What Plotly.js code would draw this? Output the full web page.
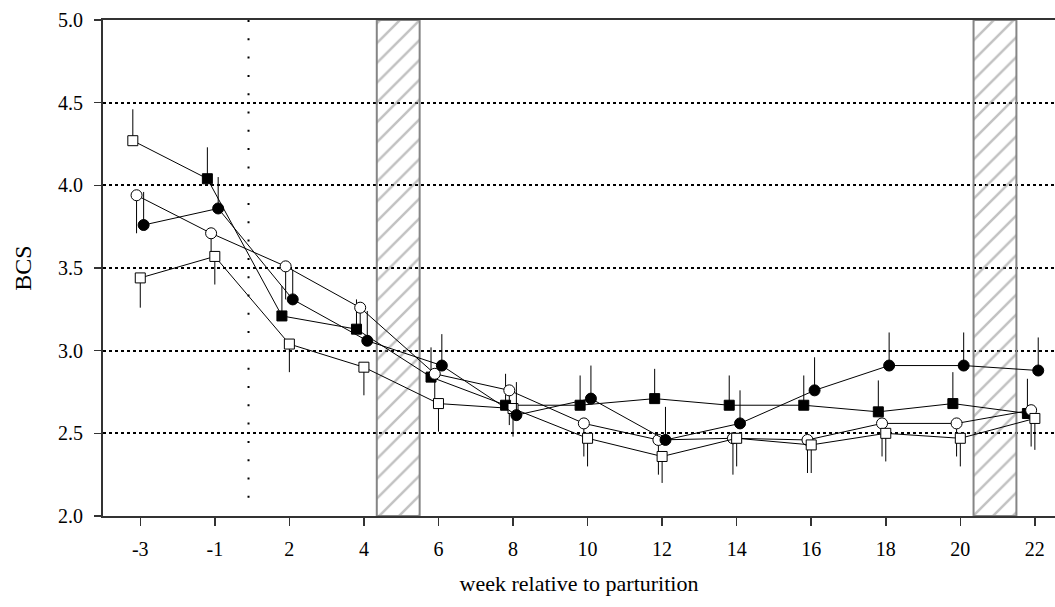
<!DOCTYPE html>
<html>
<head>
<meta charset="utf-8">
<script src="https://cdn.plot.ly/plotly-3.0.1.min.js"></script>
<style>html,body{margin:0;padding:0;background:#fff;}#chart{width:1055px;height:607px;}</style>
</head>
<body>
<div id="chart"></div>
<script>
// week labels (categorical positions, evenly spaced)
const weekLabels = ["-3", "-1", "2", "4", "6", "8", "10", "12", "14", "16", "18", "20", "22"];

// filled square series (first point drawn open in the original)
const fsqMean = [4.27, 4.04, 3.21, 3.13, 2.84, 2.67, 2.67, 2.71, 2.67, 2.67, 2.63, 2.68, 2.62];
const fsqErr  = [0.19, 0.19, 0.18, 0.18, 0.18, 0.19, 0.18, 0.18, 0.18, 0.18, 0.19, 0.19, 0.21];

// open circle series
const ocMean = [3.94, 3.71, 3.51, 3.26, 2.86, 2.76, 2.56, 2.46, 2.47, 2.46, 2.56, 2.56, 2.64];
const ocErr  = [0.23, 0.13, 0.20, 0.15, 0.17, 0.21, 0.20, 0.21, 0.22, 0.20, 0.20, 0.20, 0.22];

// open square series
const osqMean = [3.44, 3.57, 3.04, 2.90, 2.68, 2.65, 2.47, 2.36, 2.47, 2.43, 2.50, 2.47, 2.59];
const osqErr  = [0.18, 0.17, 0.17, 0.17, 0.17, 0.17, 0.17, 0.16, 0.17, 0.17, 0.17, 0.17, 0.19];

// filled circle series
const fcMean = [3.76, 3.86, 3.31, 3.06, 2.91, 2.61, 2.71, 2.46, 2.56, 2.76, 2.91, 2.91, 2.88];
const fcErr  = [0.20, 0.19, 0.18, 0.18, 0.19, 0.20, 0.20, 0.20, 0.20, 0.20, 0.20, 0.20, 0.20];

// hatched periods (in category-position units) and the parturition marker
const hatchCenters = [3.46, 11.465];
const hatchWidth = 0.575;
const partMarker = 1.452;

const idx = weekLabels.map((_, i) => i);
const zeros = idx.map(() => 0);
const shift = (d) => idx.map(i => i + d);

const lineStyle = {color: "black", width: 1};
const errUp = (arr) => ({type: "data", symmetric: false, array: arr, arrayminus: zeros, width: 0, thickness: 1, color: "black"});
const errDown = (arr) => ({type: "data", symmetric: false, array: zeros, arrayminus: arr, width: 0, thickness: 1, color: "black"});

const traces = [
  {
    type: "bar", x: hatchCenters, y: hatchCenters.map(() => 3), base: 2, width: hatchWidth,
    marker: {color: "rgba(0,0,0,0)", line: {color: "#858585", width: 2},
      pattern: {shape: "/", fgcolor: "#858585", bgcolor: "rgba(0,0,0,0)", size: 14, solidity: 0.18, fillmode: "overlay"}},
    hoverinfo: "skip", showlegend: false
  },
  {
    type: "scatter", mode: "lines+markers", x: shift(-0.1), y: fsqMean,
    line: lineStyle, error_y: errUp(fsqErr),
    marker: {symbol: "square", size: 10, color: fsqMean.map((_, i) => i === 0 ? "white" : "black"), line: {color: "black", width: 1}},
    showlegend: false
  },
  {
    type: "scatter", mode: "lines+markers", x: shift(-0.05), y: ocMean,
    line: lineStyle, error_y: errDown(ocErr),
    marker: {symbol: "circle", size: 11, color: "white", line: {color: "black", width: 1}},
    showlegend: false
  },
  {
    type: "scatter", mode: "lines+markers", x: shift(0), y: osqMean,
    line: lineStyle, error_y: errDown(osqErr),
    marker: {symbol: "square", size: 10, color: "white", line: {color: "black", width: 1}},
    showlegend: false
  },
  {
    type: "scatter", mode: "lines+markers", x: shift(0.045), y: fcMean,
    line: lineStyle, error_y: errUp(fcErr),
    marker: {symbol: "circle", size: 11, color: "black", line: {color: "black", width: 1}},
    showlegend: false
  }
];

const fontFam = "Liberation Serif, Times New Roman, serif";

const layout = {
  width: 1055, height: 607,
  margin: {l: 103, r: 0, t: 20, b: 91, pad: 0},
  paper_bgcolor: "white", plot_bgcolor: "white",
  font: {family: fontFam, color: "black", size: 20},
  showlegend: false,
  xaxis: {
    range: [-0.5, 12.27], tickmode: "array", tickvals: idx, ticktext: weekLabels,
    showline: true, linecolor: "#333", linewidth: 2, mirror: true,
    ticks: "outside", ticklen: 8, tickwidth: 1.5, tickcolor: "#333",
    showgrid: false, zeroline: false, ticklabelstandoff: 6,
    tickfont: {family: fontFam, size: 20, color: "black"},
    title: {text: "week relative to parturition", font: {family: fontFam, size: 22, color: "black"}, standoff: 17}
  },
  yaxis: {
    range: [2, 5], dtick: 0.5, tick0: 2, tickformat: ".1f",
    showline: true, linecolor: "#333", linewidth: 2, mirror: false,
    ticks: "outside", ticklen: 7, tickwidth: 1.5, tickcolor: "#333",
    showgrid: true, gridcolor: "black", gridwidth: 2, griddash: "dot",
    zeroline: false, ticklabelstandoff: 7,
    tickfont: {family: fontFam, size: 20, color: "black"},
    title: {text: "BCS", font: {family: fontFam, size: 24, color: "black"}, standoff: 20}
  },
  shapes: [
    {type: "line", xref: "x", yref: "y", x0: partMarker, x1: partMarker, y0: 5, y1: 2.1,
     line: {color: "black", width: 2, dash: "2px,16.3px"}, layer: "below"}
  ]
};

Plotly.newPlot("chart", traces, layout, {displayModeBar: false, staticPlot: true});
</script>
</body>
</html>
